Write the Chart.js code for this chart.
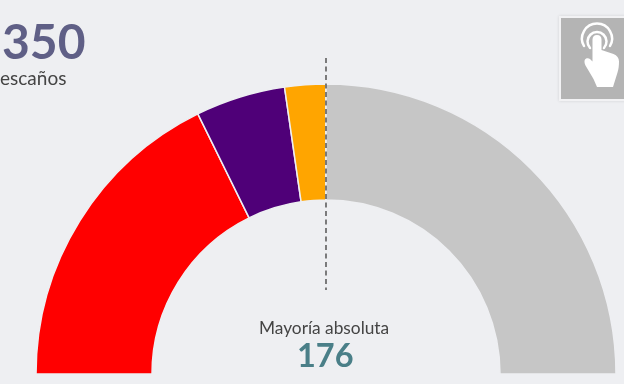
<!DOCTYPE html>
<html><head><meta charset="utf-8">
<script src="https://cdn.jsdelivr.net/npm/chart.js@4"></script>
<style>
html,body{margin:0;padding:0;width:624px;height:384px;overflow:hidden;background:#eeeff2;font-family:Lato,sans-serif}
#wrap{position:absolute;left:0;top:0;width:652px;height:458px}
.t{position:absolute;white-space:nowrap;line-height:1}
#box{position:absolute;left:559px;top:16px;width:70px;height:81px;background:#b4b4b4;border:2px solid #f2f2f4;box-shadow:0 0 3px rgba(0,0,0,.12)}
#icon{position:absolute;left:0;top:0}
</style></head><body>
<div id="wrap"><canvas id="c"></canvas></div>
<div class="t" style="left:2px;top:17px;font-size:48px;font-weight:700;color:#5f5f86">350</div>
<div class="t" style="left:0;top:68px;font-size:19px;color:#444">escaños</div>
<div class="t" style="left:259px;top:319px;font-size:17.300px;color:#444">Mayoría absoluta</div>
<div class="t" style="left:297px;top:339px;font-size:32.500px;font-weight:700;color:#4a7f88">176</div>
<div id="box"></div>
<svg id="icon" width="624" height="384" viewBox="0 0 624 384">
<g fill="none" stroke="#fff" stroke-width="2.500" stroke-linecap="round">
<path d="M590 48 A9.500 9.500 0 1 1 604 48"/><path d="M584 46 A15 15 0 1 1 610 46"/></g>
<path fill="#fff" d="M597 35c3 0 4.500 2 4.500 4.500V50l12 4c3.500 1.200 5.500 4 5.500 7.500 0 4-.5 8-1.500 11L613 87H597l-3.500-8-8-13.500c-1-2-1.500-4.500-.5-6 1-1.500 3.500-1.800 5-.5l2.500 2.500V39.500c0-2.500 1.500-4.500 4.500-4.500z"/>
</svg>
<script>
const categories=["PSOE","Unidas Podemos","Más País","Resto"];
const seats=[124,35,16,175];
const colours=["#ff0000","#4f0078","#ffa500","#c6c6c6"];
const dashedLine={id:"dashedLine",afterDatasetsDraw(chart){
  const arc=chart.getDatasetMeta(0).data[0];
  const ctx=chart.ctx;
  ctx.save();ctx.strokeStyle="#4a4a4a";ctx.lineWidth=1.4;ctx.setLineDash([5,3.500]);
  ctx.beginPath();ctx.moveTo(arc.x,arc.y-316);ctx.lineTo(arc.x,arc.y-84);ctx.stroke();ctx.restore();
}};
new Chart(document.getElementById("c"),{
  type:"doughnut",
  data:{labels:categories,datasets:[{data:seats,backgroundColor:colours,borderColor:"#eeeff2",borderWidth:1.5}]},
  options:{responsive:true,maintainAspectRatio:false,animation:false,
    rotation:-90,circumference:180,radius:290,cutout:"60%",
    layout:{padding:0},
    plugins:{legend:{display:false},tooltip:{enabled:false}}},
  plugins:[dashedLine]
});
</script>
</body></html>
